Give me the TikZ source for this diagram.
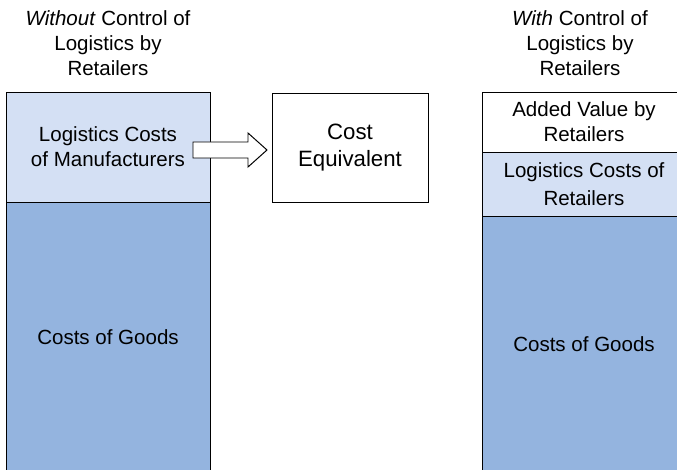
\documentclass[tikz,border=0pt]{standalone}
\usepackage{fontspec}
\setmainfont{Liberation Sans}
\usetikzlibrary{positioning}
\definecolor{PaleBlue}{HTML}{D4E0F4}
\definecolor{MidBlue}{HTML}{94B4DF}

\begin{document}
\begin{tikzpicture}[
  blk/.style={draw=black, line width=0.7pt, outer sep=0pt, inner sep=2pt, minimum width=5.1cm, align=center, font=\fontsize{14.6}{17.8}\selectfont},
  ttl/.style={align=center, font=\fontsize{14.6}{17.8}\selectfont},
  fatarr/.style={draw=black, line width=0.7pt, fill=white}
]
\useasboundingbox (0,0) rectangle (16.925,11.725);
\clip (0,0) rectangle (16.925,11.725);
% titles
\node[ttl] (tleft) at (2.7,10.65) {\textit{Without} Control of\\Logistics by\\Retailers};
\node[ttl] (tright) at (14.5,10.65) {\textit{With} Control of\\Logistics by\\Retailers};
% left column
\node[blk, fill=PaleBlue, minimum height=2.75cm] (lmanu) at (2.7,8.05) {Logistics Costs\\of Manufacturers};
\node[blk, fill=MidBlue, minimum height=6.75cm, below=0pt of lmanu] (lgoods) {Costs of Goods};
% middle
\node[blk, minimum width=3.9cm, minimum height=2.725cm, font=\fontsize{15.8}{19.2}\selectfont] (cost) at (8.75,8.0375) {Cost\\Equivalent};
% right column
\node[blk, fill=white, minimum height=1.5cm] (radded) at (14.6,8.675) {Added Value by\\Retailers};
\node[blk, fill=PaleBlue, minimum height=1.6cm, below=0pt of radded, font=\fontsize{14.6}{19.9}\selectfont] (rlog) {Logistics Costs of\\Retailers};
\node[blk, fill=MidBlue, minimum height=6.4cm, below=0pt of rlog] (rgoods) {Costs of Goods};
% block arrow
\draw[fatarr] (4.825,8.175) -- (6.2,8.175) -- (6.2,8.4) -- (6.675,7.975)
  -- (6.2,7.55) -- (6.2,7.775) -- (4.825,7.775) -- cycle;
\end{tikzpicture}
\end{document}
